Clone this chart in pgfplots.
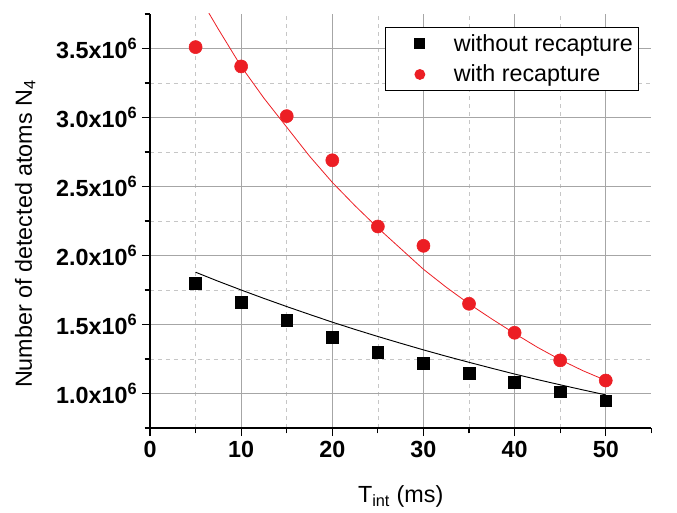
\documentclass[border=0pt]{standalone}
\usepackage{pgfplots}
\pgfplotsset{compat=1.18}
\usepackage{fontspec}
\setmainfont{Liberation Sans}
\definecolor{myred}{RGB}{236,30,36}
\pgfplotsset{myleg/.style={legend image code/.code={\path[draw=none,fill=none] (0pt,-3pt) rectangle (47pt,3pt);\draw[mark repeat=2,mark phase=2,##1,mark size=3.6pt] plot coordinates {(0pt,0pt) (23.5pt,0pt) (47pt,0pt)};}}}
\begin{document}
\begin{tikzpicture}
\begin{axis}[
  scale only axis,
  width=376pt, height=310.5pt,
  xmin=0, xmax=55, ymin=0.75, ymax=3.75,
  axis x line*=bottom, axis y line*=left,
  axis line style={-, line width=0.9pt},
  xtick={0,10,20,30,40,50},
  minor x tick num=1,
  ytick={1,1.5,2,2.5,3,3.5},
  minor y tick num=1,
  extra x ticks={55}, extra x tick labels={},
  extra y ticks={0.75,3.75}, extra y tick labels={},
  extra tick style={major tick length=4pt, grid=none},
  yticklabels={1.0x10\textsuperscript{6},1.5x10\textsuperscript{6},2.0x10\textsuperscript{6},2.5x10\textsuperscript{6},3.0x10\textsuperscript{6},3.5x10\textsuperscript{6}},
  scaled y ticks=false,
  tick align=outside,
  major tick length=6pt, minor tick length=4pt,
  grid=both,
  major grid style={draw=gray!70, line width=0.9pt, solid},
  minor grid style={draw=gray!45, dashed, line width=0.5pt},
  major tick style={draw=black, line width=0.9pt},
  minor tick style={draw=black, line width=0.9pt},
  /pgf/number format/assume math mode=true,
  ticklabel style={font=\fontsize{17.5}{20}\selectfont\bfseries},
  xlabel={T\textsubscript{int} (ms)},
  ylabel={Number of detected atoms N\textsubscript{4}},
  label style={font=\fontsize{17.5}{20}\selectfont},
  xlabel style={at={(axis description cs:0.5,-0.179)}, anchor=base},
  ylabel style={at={(axis description cs:-0.249,0.469)}, anchor=center, rotate=0},
  legend style={at={(rel axis cs:0.975,0.969)}, anchor=north east, draw=black, line width=0.9pt,
    font=\fontsize{17.5}{20}\selectfont, inner xsep=2pt, inner ysep=3pt, row sep=5pt},
  legend cell align=left,
]
\addplot[black, line width=0.7pt, forget plot] coordinates {
(5,1.879) (7.5,1.813) (10,1.750) (12.5,1.689) (15,1.630) (17.5,1.573) (20,1.517)
(22.5,1.464) (25,1.413) (27.5,1.364) (30,1.316) (32.5,1.270) (35,1.226) (37.5,1.183)
(40,1.141) (42.5,1.101) (45,1.063) (47.5,1.026) (50,0.990)};
\addplot[myred, line width=0.6pt, forget plot] coordinates {
(5,3.92) (7.5,3.64) (10,3.37) (12.5,3.14) (15,2.93) (17.5,2.72) (20,2.53) (22.5,2.36)
(25,2.20) (27.5,2.05) (30,1.90) (32.5,1.77) (35,1.65) (37.5,1.54) (40,1.435)
(42.5,1.335) (45,1.245) (47.5,1.165) (50,1.095)};
\addplot[only marks, mark=square*, mark size=4.4pt, black, myleg] coordinates {
(5,1.80) (10,1.66) (15,1.53) (20,1.405) (25,1.30) (30,1.217) (35,1.147) (40,1.082) (45,1.012) (50,0.947)};
\addlegendentry{without recapture}
\addplot[only marks, mark=*, mark size=4.9pt, myred, mark options={draw=myred, fill=myred}, myleg] coordinates {
(5,3.51) (10,3.37) (15,3.01) (20,2.69) (25,2.21) (30,2.07) (35,1.65) (40,1.44) (45,1.24) (50,1.094)};
\addlegendentry{with recapture}
\end{axis}
\pgfresetboundingbox
\path (-112.5pt,-63.75pt) rectangle (395.25pt,321pt);
\end{tikzpicture}
\end{document}
